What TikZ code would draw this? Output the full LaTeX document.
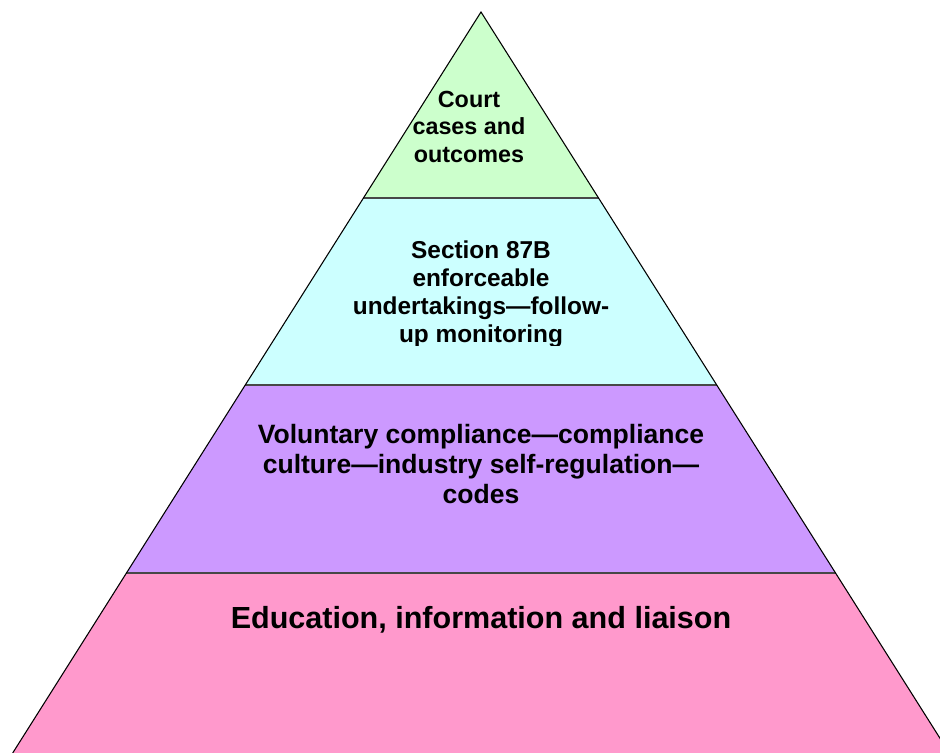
\documentclass[tikz,border=0pt]{standalone}
\usepackage{fontspec}
\setmainfont{Liberation Sans}
\definecolor{tiergreen}{HTML}{CCFFCC}
\definecolor{tiercyan}{HTML}{CCFFFF}
\definecolor{tierviolet}{HTML}{CC99FF}
\definecolor{tierpink}{HTML}{FF99CC}
\begin{document}
\begin{tikzpicture}[x=0.75pt,y=-0.75pt,
  tierlabel/.style={align=center, inner sep=0pt, anchor=base},
  divider/.style={line width=1.4pt, draw=black!72},
  outline/.style={draw=black, line width=0.8pt}]
\useasboundingbox (0,0) rectangle (940,753);
\begin{scope}
\clip (0,0) rectangle (940,753);
% corners of the pyramid and its tiers
\coordinate (apex) at (481,12);
\coordinate (l1) at (363.4,198); \coordinate (r1) at (598.6,198);
\coordinate (l2) at (245.3,385); \coordinate (r2) at (716.7,385);
\coordinate (l3) at (126.4,573); \coordinate (r3) at (835.6,573);
\coordinate (l4) at (12.7,753);  \coordinate (r4) at (949.3,753);
% tier fills
\fill[tiergreen]  (apex) -- (r1) -- (l1) -- cycle;
\fill[tiercyan]   (l1) -- (r1) -- (r2) -- (l2) -- cycle;
\fill[tierviolet] (l2) -- (r2) -- (r3) -- (l3) -- cycle;
\fill[tierpink]   (l3) -- (r3) -- (r4) -- (l4) -- cycle;
% tier dividers and outline
\draw[divider] (l1) -- (r1);
\draw[divider] (l2) -- (r2);
\draw[divider] (l3) -- (r3);
\draw[outline] (l4) -- (apex) -- (r4);
\end{scope}
% labels (the base anchor sits on the last line)
\node[tierlabel, font=\fontsize{17.5}{20.6}\selectfont\bfseries] (court) at (469,162)
  {Court\\cases and\\outcomes};
\begin{scope}
\clip (300,200) rectangle (660,345);
\node[tierlabel, font=\fontsize{18.3}{21}\selectfont\bfseries] (section) at (481,342)
  {Section 87B\\enforceable\\undertakings—follow-\\up monitoring};
\end{scope}
\node[tierlabel, font=\fontsize{19.9}{22.5}\selectfont\bfseries] (voluntary) at (481,503)
  {Voluntary compliance—compliance\\culture—industry self-regulation—\\codes};
\node[tierlabel, font=\fontsize{22.9}{27}\selectfont\bfseries] (education) at (481,628)
  {Education, information and liaison};
\end{tikzpicture}
\end{document}
